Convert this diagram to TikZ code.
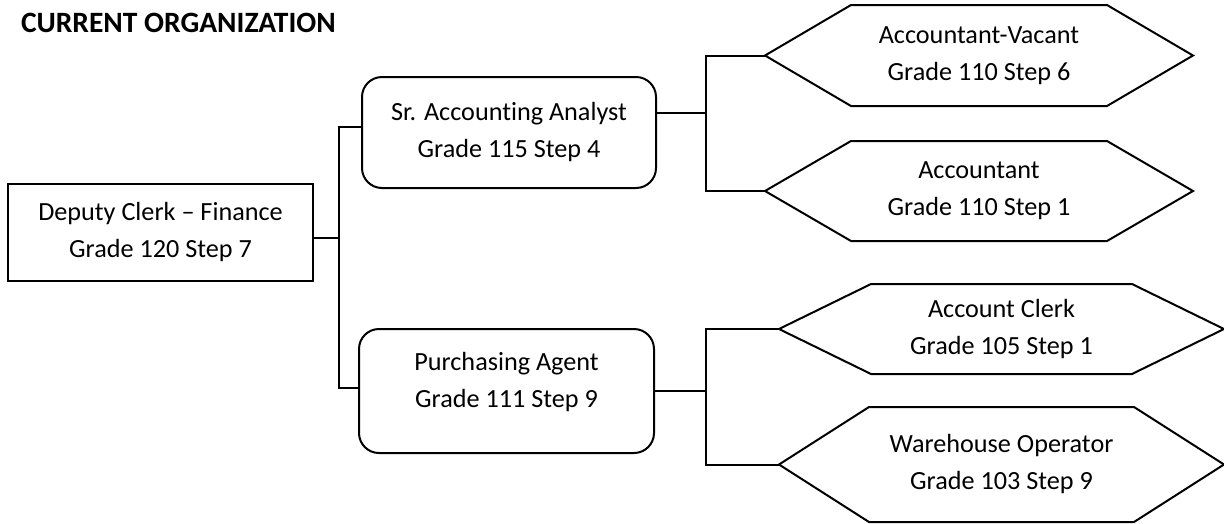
\documentclass[tikz,border=0pt]{standalone}
\usepackage{fontspec}
\setmainfont{Carlito}[Ligatures=NoCommon]
\usetikzlibrary{calc}
\newcommand\hexpath[2]{\draw (#1.west) -- ([xshift=#2]#1.north west) -- ([xshift=-#2]#1.north east) -- (#1.east) -- ([xshift=-#2]#1.south east) -- ([xshift=#2]#1.south west) -- cycle;}
\begin{document}
\begin{tikzpicture}[x=1pt,y=-1pt,line width=2pt,
  txt/.style={font=\fontsize{26.2}{37}\selectfont, align=center, inner sep=0pt},
  box/.style={txt, draw, rectangle},
  rbox/.style={box, rounded corners=20pt},
  hexnode/.style={txt, rectangle},
  title/.style={font=\bfseries\fontsize{29.5}{30}\selectfont, inner sep=0pt, anchor=base west}]
\useasboundingbox (0,0) rectangle (1224,523);
\node[title] (ttl) at (20,32) {CURRENT ORGANIZATION};
\node[box, minimum width=305pt, minimum height=97pt] (dep) at (160.5,232.5) {Deputy Clerk – Finance\\Grade 120 Step 7};
\node[rbox, minimum width=294pt, minimum height=111pt] (sr) at (509,132.5) {Sr. Accounting Analyst\\Grade 115 Step 4};
\node[rbox, minimum width=295pt, minimum height=124pt] (pa) at (506.5,391) {Purchasing Agent\\Grade 111 Step 9\\[-15pt]};
\node[hexnode, minimum width=426pt, minimum height=99pt] (av) at (979,55.5) {Accountant-Vacant\\Grade 110 Step 6};
\node[hexnode, minimum width=426pt, minimum height=98pt] (acc) at (979,191) {Accountant\\Grade 110 Step 1};
\node[hexnode, minimum width=443pt, minimum height=88pt] (ac) at (1001.5,329) {Account Clerk\\Grade 105 Step 1};
\node[hexnode, minimum width=443pt, minimum height=113pt] (wo) at (1001.5,464.5) {Warehouse Operator\\Grade 103 Step 9};
\hexpath{av}{86pt}
\hexpath{acc}{86pt}
\hexpath{ac}{92pt}
\hexpath{wo}{90pt}
% trunks
\coordinate (t1) at ($(sr.west)+(-22,0)$);
\coordinate (t2) at ($(av.west)+(-59,0)$);
\coordinate (t3) at ($(ac.west)+(-73,0)$);
\draw ([yshift=5.5pt]sr.west) -- ([yshift=5.5pt]sr.west -| t1) |- ([yshift=3pt]pa.west);
\draw ([yshift=-5pt]dep.east) -- ([yshift=-5pt]dep.east -| t1);
\draw (av.west) -- (t2) |- (acc.west);
\draw ([yshift=19.5pt]sr.east) -- ([yshift=19.5pt]sr.east -| t2);
\draw (ac.west) -- (t3) |- (wo.west);
\draw (pa.east) -- (pa.east -| t3);
\end{tikzpicture}
\end{document}
